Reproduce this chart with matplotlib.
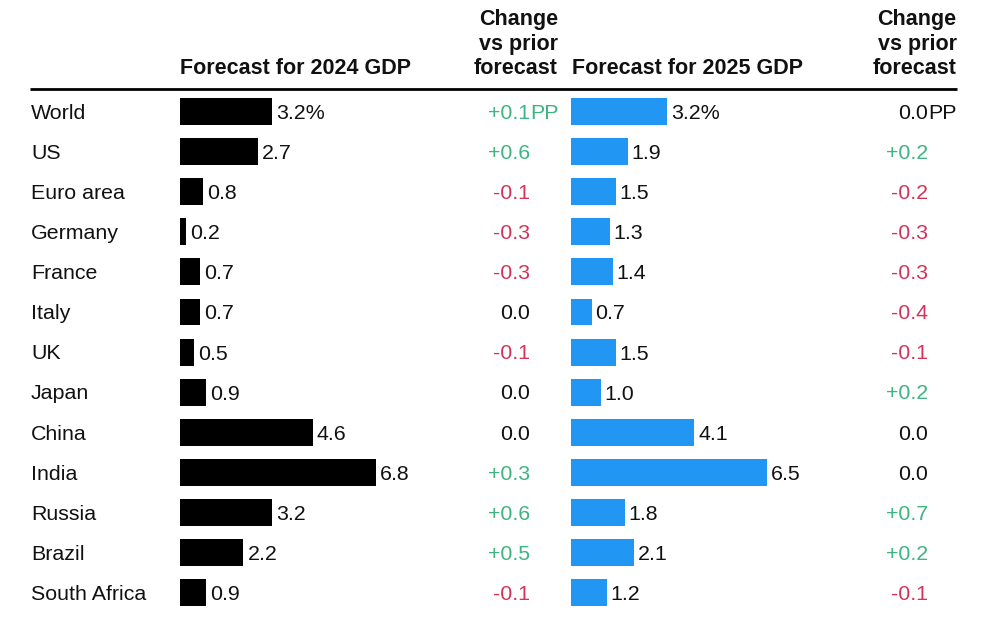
import matplotlib
matplotlib.use("Agg")
import matplotlib.pyplot as plt
from matplotlib.transforms import offset_copy

plt.rcParams['font.family'] = ['Liberation Sans', 'DejaVu Sans']

countries = ["World", "US", "Euro area", "Germany", "France", "Italy", "UK",
             "Japan", "China", "India", "Russia", "Brazil", "South Africa"]
gdp_2024 = [3.2, 2.7, 0.8, 0.2, 0.7, 0.7, 0.5, 0.9, 4.6, 6.8, 3.2, 2.2, 0.9]
chg_2024 = [0.1, 0.6, -0.1, -0.3, -0.3, 0.0, -0.1, 0.0, 0.0, 0.3, 0.6, 0.5, -0.1]
gdp_2025 = [3.2, 1.9, 1.5, 1.3, 1.4, 0.7, 1.5, 1.0, 4.1, 6.5, 1.8, 2.1, 1.2]
chg_2025 = [0.0, 0.2, -0.2, -0.3, -0.3, -0.4, -0.1, 0.2, 0.0, 0.0, 0.7, 0.2, -0.1]

W, H = 981, 623
BLACK = "#000000"
BLUE = "#2196F3"
GREEN = "#3DB482"
RED = "#D5325A"
FS = 15.4
HFS = 15.5

fig = plt.figure(figsize=(W / 100, H / 100), dpi=100)
fig.patch.set_facecolor("white")

# overlay axes in pixel coordinates for text layout
ov = fig.add_axes([0, 0, 1, 1])
ov.set_xlim(0, W)
ov.set_ylim(H, 0)
ov.axis("off")

n = len(countries)
row0 = 111.5
pitch = 40.1
top_px = row0 - 0.5 * pitch
bot_px = row0 + (n - 0.5) * pitch


def bar_axes(left_px, width_px, vmax):
    ax = fig.add_axes([left_px / W, 1 - bot_px / H, width_px / W, (bot_px - top_px) / H])
    ax.set_xlim(0, vmax)
    ax.set_ylim(n - 0.5, -0.5)
    ax.axis("off")
    return ax


ax1 = bar_axes(180, 196, max(gdp_2024))
ax2 = bar_axes(570.5, 196, max(gdp_2025))

for ax, vals, col in [(ax1, gdp_2024, BLACK), (ax2, gdp_2025, BLUE)]:
    ax.barh(range(n), vals, height=0.67, color=col)
    tr = offset_copy(ax.transData, fig=fig, x=4, y=-7.4, units="dots")
    for i, v in enumerate(vals):
        lab = f"{v:.1f}%" if i == 0 else f"{v:.1f}"
        ax.text(v, i, lab, transform=tr, ha="left", va="baseline",
                fontsize=FS, color="#111111", clip_on=False)


def chg_color(v):
    if v > 0:
        return GREEN
    if v < 0:
        return RED
    return "#111111"


def chg_text(v):
    if v > 0:
        return f"+{v:.1f}"
    if v < 0:
        return f"-{abs(v):.1f}"
    return f"{v:.1f}"


for i, name in enumerate(countries):
    yb = row0 + i * pitch + 7.2
    ov.text(31, yb, name, ha="left", va="baseline", fontsize=FS, color="#111111")
    for xr, vals in [(530, chg_2024), (928, chg_2025)]:
        v = vals[i]
        c = chg_color(v)
        ov.text(xr, yb, chg_text(v), ha="right", va="baseline", fontsize=FS, color=c)
        if i == 0:
            ov.text(xr, yb, "PP", ha="left", va="baseline", fontsize=FS, color=c)

# headers
ov.text(180, 74.5, "Forecast for 2024 GDP", ha="left", va="baseline",
        fontsize=HFS, fontweight="bold", color="#111111")
ov.text(572, 74.5, "Forecast for 2025 GDP", ha="left", va="baseline",
        fontsize=HFS, fontweight="bold", color="#111111")
for xr in (558, 956.5):
    for yb, t in [(25, "Change"), (50, "vs prior"), (74.5, "forecast")]:
        ov.text(xr, yb, t, ha="right", va="baseline", fontsize=HFS,
                fontweight="bold", color="#111111")

ov.plot([30, 957], [89, 89], color="black", lw=2.0, solid_capstyle="butt")

fig.savefig("out.png", dpi=100, facecolor="white")
